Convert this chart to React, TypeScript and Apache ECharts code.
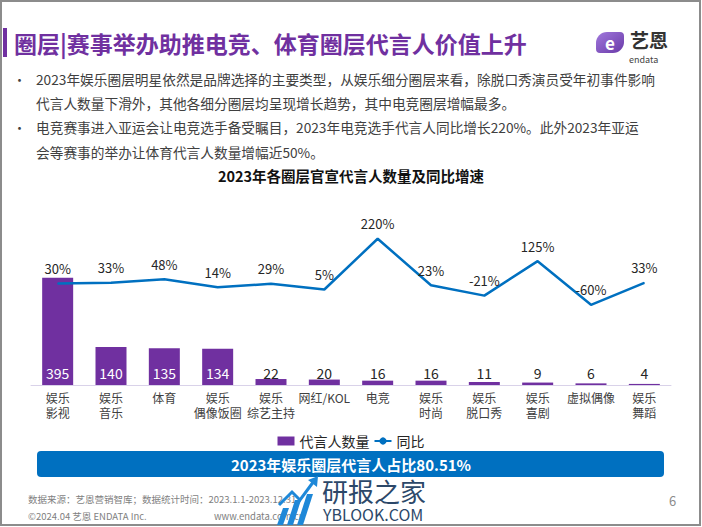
import React, { useEffect, useRef } from "react";
import * as echarts from "echarts";

const categories = ["娱乐\n影视", "娱乐\n音乐", "体育", "娱乐\n偶像饭圈", "娱乐\n综艺主持", "网红/KOL", "电竞", "娱乐\n时尚", "娱乐\n脱口秀", "娱乐\n喜剧", "虚拟偶像", "娱乐\n舞蹈"];
const counts = [395, 140, 135, 134, 22, 20, 16, 16, 11, 9, 6, 4];
const growth = [30, 33, 48, 14, 29, 5, 220, 23, -21, 125, -60, 33];

const pageTitle = "圈层|赛事举办助推电竞、体育圈层代言人价值上升";
const bulletLines = [
  "2023年娱乐圈层明星依然是品牌选择的主要类型，从娱乐细分圈层来看，除脱口秀演员受年初事件影响",
  "代言人数量下滑外，其他各细分圈层均呈现增长趋势，其中电竞圈层增幅最多。",
  "电竞赛事进入亚运会让电竞选手备受瞩目，2023年电竞选手代言人同比增长220%。此外2023年亚运",
  "会等赛事的举办让体育代言人数量增幅近50%。",
];
const chartTitle = "2023年各圈层官宣代言人数量及同比增速";
const bannerText = "2023年娱乐圈层代言人占比80.51%";
const seriesNames = ["代言人数量", "同比"];

const FONT = '"Noto Sans CJK SC", "Noto Sans", sans-serif';

export default function App() {
  const ref = useRef<HTMLDivElement>(null);
  useEffect(() => {
    if (!ref.current) return;
    const chart = echarts.init(ref.current, null, { renderer: "svg" });
    const textColor = "#404040";
    const graphic: any[] = [
      { type: "rect", shape: { x: 1, y: 1, width: 699, height: 524 }, style: { fill: "none", stroke: "#8c8c8c", lineWidth: 2 }, silent: true },
      { type: "rect", shape: { x: 3, y: 28, width: 4, height: 29 }, style: { fill: "#7030A0" } },
      { type: "text", x: 14, y: 43, style: { text: pageTitle, font: `bold 23px ${FONT}`, fill: "#7030A0", verticalAlign: "middle" } },
      // logo
      { type: "rect", shape: { x: 596, y: 32, width: 28, height: 21, r: [11, 4, 11, 4] }, style: { fill: new echarts.graphic.LinearGradient(0, 0, 1, 1, [{ offset: 0, color: "#a078dc" }, { offset: 1, color: "#6a3aa8" }]) } },
      { type: "text", x: 610, y: 42, style: { text: "e", font: `bold 17px ${FONT}`, fill: "#fff", align: "center", verticalAlign: "middle" } },
      { type: "text", x: 630, y: 39, style: { text: "艺恩", font: `bold 19px ${FONT}`, fill: "#333", verticalAlign: "middle" } },
      { type: "text", x: 629, y: 59, style: { text: "endata", font: `9px ${FONT}`, fill: "#444", verticalAlign: "middle" } },
    ];
    const lineYs = [79, 103, 127, 152];
    bulletLines.forEach((t, i) => {
      if (i === 0 || i === 2) {
        graphic.push({ type: "text", x: 13, y: lineYs[i], style: { text: "•", font: `13px ${FONT}`, fill: textColor, verticalAlign: "middle" } });
      }
      graphic.push({ type: "text", x: 36, y: lineYs[i], style: { text: t, font: `13.7px ${FONT}`, fill: textColor, verticalAlign: "middle" } });
    });
    graphic.push(
      { type: "rect", shape: { x: 37, y: 451, width: 627, height: 26, r: 4 }, style: { fill: "#0070C0" } },
      { type: "text", x: 351, y: 464, style: { text: bannerText, font: `bold 15px ${FONT}`, fill: "#fff", align: "center", verticalAlign: "middle" } },
      { type: "text", x: 28, y: 499, style: { text: "数据来源：艺恩营销智库；数据统计时间：2023.1.1-2023.12.31", font: `9.5px ${FONT}`, fill: "#7f7f7f", verticalAlign: "middle" } },
      { type: "text", x: 28, y: 516, style: { text: "©2024.04 艺恩 ENDATA Inc.", font: `9.5px ${FONT}`, fill: "#7f7f7f", verticalAlign: "middle" } },
      { type: "text", x: 214, y: 516, style: { text: "www.endata.com.cn", font: `9.5px ${FONT}`, fill: "#7f7f7f", verticalAlign: "middle" } },
      { type: "text", x: 669, y: 500, style: { text: "6", font: `13px ${FONT}`, fill: "#8c8c8c", verticalAlign: "middle" } },
      // watermark
      { type: "polygon", shape: { points: [[277, 525], [283, 508], [289, 508], [283, 525]] }, style: { fill: "#1e88d8" } },
      { type: "polygon", shape: { points: [[287, 525], [295, 500], [301, 500], [293, 525]] }, style: { fill: "#1e88d8" } },
      { type: "polygon", shape: { points: [[297, 525], [307, 494], [313, 494], [303, 525]] }, style: { fill: "#1e88d8" } },
      { type: "polyline", shape: { points: [[279, 505], [292, 492], [300, 500], [314, 481]] }, style: { stroke: "#1e88d8", lineWidth: 3, fill: "none" } },
      { type: "polygon", shape: { points: [[308, 480], [318, 476], [317, 487]] }, style: { fill: "#1e88d8" } },
      { type: "text", x: 322, y: 490, style: { text: "研报之家", font: `26px ${FONT}`, fill: "#2c4869", verticalAlign: "middle" } },
      { type: "text", x: 323, y: 514, style: { text: "YBLOOK.COM", font: `16px ${FONT}`, fill: "#2c4869", verticalAlign: "middle" } }
    );

    chart.setOption({
      animation: false,
      backgroundColor: "#fff",
      textStyle: { fontFamily: FONT },
      title: {
        text: chartTitle,
        left: "center",
        top: 163,
        textStyle: { fontSize: 14.5, fontWeight: "bold", color: "#111", fontFamily: FONT },
      },
      legend: {
        top: 429,
        left: "center",
        itemWidth: 17,
        itemHeight: 9,
        itemGap: 4,
        textStyle: { fontSize: 14, color: "#262626", fontFamily: FONT },
        data: [{ name: seriesNames[0], icon: "rect" }, { name: seriesNames[1] }],
      },
      grid: { left: 31, right: 31, top: 214, bottom: 142 },
      xAxis: {
        type: "category",
        data: categories,
        axisLine: { lineStyle: { color: "#D9D2E9", width: 1 } },
        axisTick: { show: false },
        axisLabel: { interval: 0, fontSize: 12, color: textColor, lineHeight: 15, margin: 5, fontFamily: FONT },
      },
      yAxis: [
        { type: "value", min: 0, max: 630, show: false, splitLine: { show: false } },
        { type: "value", min: -400, max: 325, show: false, splitLine: { show: false } },
      ],
      series: [
        {
          name: seriesNames[0],
          type: "bar",
          barWidth: 31,
          itemStyle: { color: "#7030A0" },
          data: counts.map((v) => ({ value: v, label: { color: v > 50 ? "#fff" : "#262626" } })),
          label: { show: true, position: "insideBottom", distance: 5, fontSize: 14, fontFamily: FONT },
        },
        {
          name: seriesNames[1],
          type: "line",
          yAxisIndex: 1,
          symbol: "circle",
          symbolSize: 1,
          showSymbol: true,
          lineStyle: { color: "#0070C0", width: 2.5 },
          itemStyle: { color: "#0070C0" },
          data: growth,
          label: { show: true, position: "top", distance: 8, fontSize: 13, color: "#262626", formatter: "{c}%", fontFamily: FONT },
        },
      ],
      graphic,
    });
    return () => chart.dispose();
  }, []);
  return <div ref={ref} style={{ position: "absolute", left: 0, top: 0, width: 702, height: 527 }} />;
}
